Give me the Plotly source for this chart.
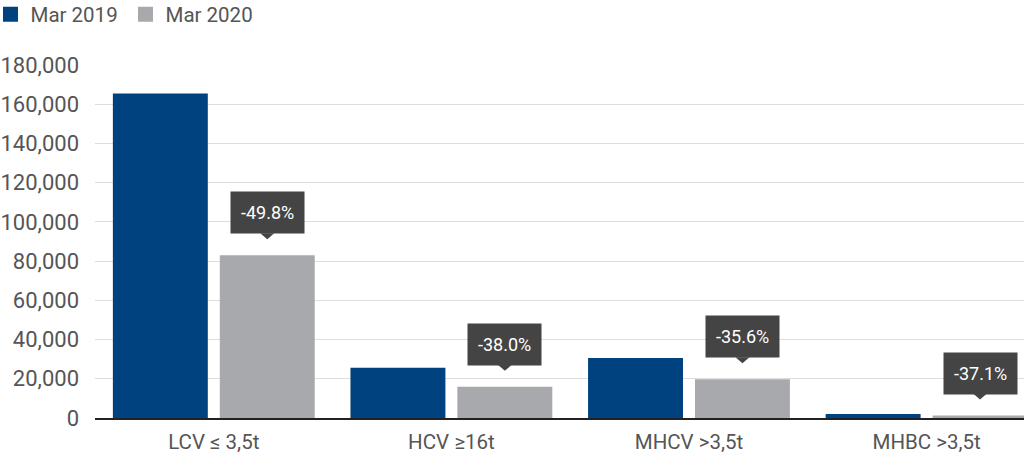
import plotly.graph_objects as go

categories = ["LCV ≤ 3,5t", "HCV ≥16t", "MHCV >3,5t", "MHBC >3,5t"]
mar2019 = [165500, 25600, 30600, 2000]
mar2020 = [83000, 15900, 19700, 1260]
changes = ["-49.8%", "-38.0%", "-35.6%", "-37.1%"]
tick_vals = [0, 20000, 40000, 60000, 80000, 100000, 120000, 140000, 160000, 180000]
series_names = ["Mar 2019", "Mar 2020"]

BLUE = "#00427f"
GRAY = "#a8a9ac"
TXT = "#555555"
FONT = "Roboto"

fig = go.Figure()
fig.add_trace(go.Bar(name=series_names[0], x=categories, y=mar2019, marker_color=BLUE,
                     marker_line_width=0, showlegend=False))
fig.add_trace(go.Bar(name=series_names[1], x=categories, y=mar2020, marker_color=GRAY,
                     marker_line_width=0, showlegend=False))
# legend entries with larger square swatches
for name, col in zip(series_names, [BLUE, GRAY]):
    fig.add_trace(go.Scatter(name=name, x=[None], y=[None], mode="markers",
                             marker=dict(symbol="square", size=15, color=col),
                             showlegend=True, hoverinfo="skip"))

offset = 0.225
for i, (v, t) in enumerate(zip(mar2020, changes)):
    fig.add_annotation(x=i + offset, y=v, xref="x", yref="y", text=t, showarrow=False,
                       yanchor="bottom", yshift=21, bgcolor="#444444", borderpad=10,
                       font=dict(family=FONT, size=18, color="white"))
    fig.add_shape(type="path", xref="x", yref="y", xsizemode="pixel", ysizemode="pixel",
                  xanchor=i + offset, yanchor=v,
                  path="M -7,22 L 7,22 L 0,16 Z", fillcolor="#444444", line_width=0)

fig.update_layout(
    width=1024, height=454,
    margin=dict(l=95, r=0, t=65, b=36, autoexpand=False),
    plot_bgcolor="white", paper_bgcolor="white",
    barmode="group", bargap=0.10, bargroupgap=0.112,
    font=dict(family=FONT, size=19, color=TXT),
    showlegend=True,
    legend=dict(orientation="h", x=-0.1125, xanchor="left", y=1.143, yanchor="middle",
                font=dict(family=FONT, size=20.5, color=TXT), itemwidth=30,
                itemsizing="trace", entrywidth=90, traceorder="normal"),
    xaxis=dict(range=[-0.5, 3.41], showline=True, linecolor="#222222", linewidth=1.5,
               ticks="", ticklabelstandoff=5, tickfont=dict(size=20.5, color=TXT),
               fixedrange=True),
    yaxis=dict(range=[0, 180000], tickvals=tick_vals, tickformat=",", showgrid=True,
               gridcolor="#dddddd", gridwidth=1, zeroline=False, showline=False,
               ticks="", ticklen=0, ticklabelstandoff=15,
               tickfont=dict(size=22, color=TXT)),
)

fig.write_html("out.html", config={"displayModeBar": False},
               post_script="document.body.style.margin='0';document.body.style.padding='0';")
